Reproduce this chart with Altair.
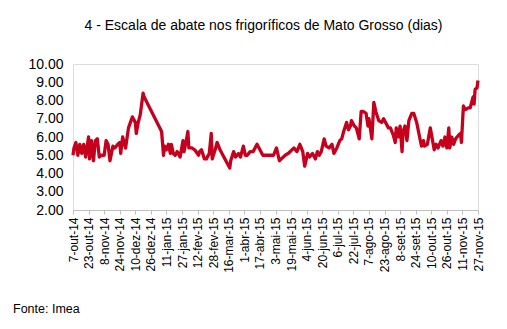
import json
import altair as alt
import pandas as pd

title_text = "4 - Escala de abate nos frigoríficos de Mato Grosso (dias)"
source_text = "Fonte: Imea"
start_date = "2014-10-07"
end_date = "2015-11-27"

# days since 7-out-14
days = [0, 1, 3, 5, 7, 9, 11, 13, 16, 17, 19, 21, 23, 25, 27, 29, 32, 34, 36, 38,
        41, 43, 46, 48, 49, 51, 52, 54, 57, 59, 61, 64, 65, 67, 69, 72, 73, 91, 93, 94,
        96, 98, 100, 101, 103, 105, 107, 110, 113, 114, 116, 118, 119, 122, 125, 129, 130, 132, 135, 137,
        140, 142, 143, 146, 148, 151, 154, 156, 158, 161, 162, 165, 167, 170, 172, 175, 177, 179, 182, 185,
        189, 192, 195, 200, 206, 209, 212, 214, 218, 221, 225, 227, 230, 233, 236, 238, 241, 243, 246, 249,
        251, 253, 255, 258, 260, 263, 266, 268, 271, 274, 276, 278, 281, 283, 285, 286, 289, 291, 294, 296,
        298, 301, 303, 304, 307, 309, 311, 314, 317, 319, 321, 324, 326, 329, 331, 332, 334, 336, 338, 339,
        341, 343, 345, 348, 350, 353, 356, 358, 360, 361, 364, 367, 369, 371, 373, 375, 378, 380, 382, 384,
        386, 387, 389, 391, 393, 396, 398, 399, 401, 403, 406, 408, 410, 411, 412, 413, 415, 416]
values = [5.0, 5.4, 5.7, 5.0, 5.6, 5.1, 5.6, 4.9, 6.0, 4.8, 5.8, 4.7, 5.8, 5.9, 4.9, 5.0, 5.0, 5.8, 5.6, 4.7,
          5.5, 5.4, 5.6, 5.7, 5.1, 6.0, 5.8, 5.4, 6.5, 6.8, 7.1, 6.8, 6.2, 6.8, 7.2, 8.4, 8.2, 6.3, 5.0, 5.5,
          5.3, 5.6, 5.1, 5.6, 5.1, 5.0, 5.2, 4.9, 5.8, 5.2, 5.7, 6.3, 5.4, 5.4, 5.3, 5.0, 5.2, 5.3, 4.8, 4.8,
          5.1, 6.2, 4.8, 5.3, 5.7, 5.3, 5.0, 4.8, 4.6, 4.3, 4.7, 5.2, 4.9, 5.1, 4.9, 5.5, 5.0, 5.0, 5.2, 5.2,
          5.6, 5.3, 5.0, 5.0, 5.0, 5.4, 4.7, 4.8, 5.0, 5.1, 5.3, 5.4, 5.2, 5.6, 5.2, 4.4, 5.1, 4.9, 5.1, 4.8,
          5.2, 5.0, 5.2, 5.9, 5.5, 5.4, 5.6, 5.1, 5.4, 5.8, 5.9, 6.3, 6.8, 6.4, 6.6, 6.9, 6.6, 6.5, 5.9, 7.4,
          7.4, 7.3, 6.6, 7.0, 5.9, 7.9, 7.4, 6.9, 6.8, 7.0, 6.8, 6.5, 6.5, 6.1, 5.7, 6.5, 6.0, 6.6, 5.2, 6.3,
          6.6, 5.8, 6.9, 7.3, 7.3, 6.8, 6.0, 5.5, 5.8, 5.5, 5.6, 6.5, 5.9, 5.3, 5.6, 5.4, 5.8, 5.5, 6.0, 5.4,
          6.5, 5.4, 6.0, 5.6, 5.9, 6.1, 6.2, 5.7, 7.7, 7.5, 7.6, 7.6, 8.0, 8.2, 7.8, 8.6, 8.7, 9.1]

tick_dates = ["2014-10-07", "2014-10-23", "2014-11-08", "2014-11-24", "2014-12-10", "2014-12-26",
              "2015-01-11", "2015-01-27", "2015-02-12", "2015-02-28", "2015-03-16", "2015-04-01",
              "2015-04-17", "2015-05-03", "2015-05-19", "2015-06-04", "2015-06-20", "2015-07-06",
              "2015-07-22", "2015-08-07", "2015-08-23", "2015-09-08", "2015-09-24", "2015-10-10",
              "2015-10-26", "2015-11-11", "2015-11-27"]
months_pt = ["jan", "fev", "mar", "abr", "mai", "jun", "jul", "ago", "set", "out", "nov", "dez"]
y_ticks = [2, 3, 4, 5, 6, 7, 8, 9, 10]


def ms(d):
    return int(pd.Timestamp(d, tz="UTC").value // 10**6)


dates = (pd.Timestamp(start_date) + pd.to_timedelta(days, unit="D")).strftime("%Y-%m-%d")
df = pd.DataFrame({"data": list(dates), "dias": values})

label_expr = ("utcFormat(datum.value, '%-d') + '-' + " + json.dumps(months_pt)
              + "[utcmonth(datum.value)] + '-' + utcFormat(datum.value, '%y')")

FONT = "Liberation Sans"

line = alt.Chart(df).mark_line(color="#C6001C", strokeWidth=3.3, strokeJoin="round").encode(
    x=alt.X("data:T",
            scale=alt.Scale(type="utc", domain=[ms(start_date), ms(end_date)]),
            axis=alt.Axis(values=[ms(d) for d in tick_dates], labelExpr=label_expr,
                          labelAngle=-90, labelFontSize=12, labelFont=FONT, labelColor="black",
                          labelPadding=3, tickSize=4, tickColor="#BFBFBF", domainColor="#BFBFBF",
                          grid=False, title=None, labelOverlap=False, labelBound=False,
                          labelFlush=False)),
    y=alt.Y("dias:Q",
            scale=alt.Scale(domain=[2, 10], nice=False, zero=False),
            axis=alt.Axis(values=y_ticks, format=".2f", labelFontSize=14, labelFont=FONT,
                          labelColor="black", domain=False, ticks=False, grid=False,
                          labelPadding=10, title=None)),
)

source = alt.Chart(pd.DataFrame({"t": [source_text]})).mark_text(
    align="left", baseline="alphabetic", fontSize=12.5, font=FONT, color="black"
).encode(x=alt.value(-60), y=alt.value(249), text="t:N")

chart = alt.layer(line, source).properties(
    width=405, height=146,
    autosize=alt.AutoSizeParams(type="none"),
    padding={"left": 73, "top": 64, "right": 29, "bottom": 119},
    title=alt.TitleParams(title_text, fontSize=14, font=FONT, fontWeight="normal",
                          color="black", anchor="middle", dx=-12, offset=13,
                          baseline="alphabetic"),
).configure_view(stroke=None).configure(background="white")

chart.save("out.html", embed_options={"renderer": "svg", "actions": False})
